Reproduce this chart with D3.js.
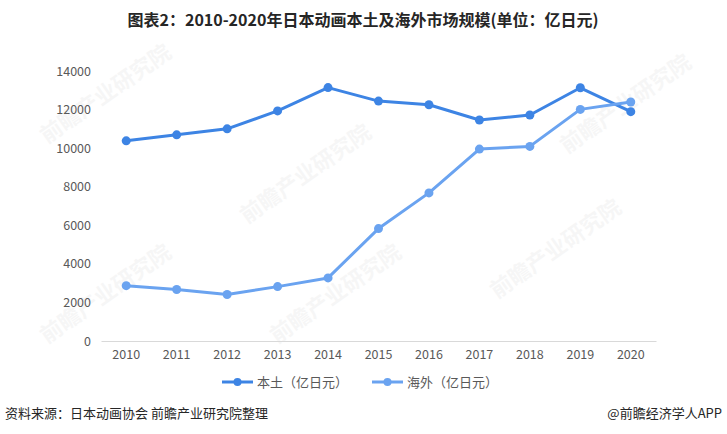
<!DOCTYPE html>
<html><head><meta charset="utf-8">
<script src="https://cdn.jsdelivr.net/npm/d3@7"></script>
<style>body{margin:0;background:#fff;}svg{display:block;}</style>
</head><body>
<svg id="c" width="727" height="434"></svg>
<script>
const years = ["2010","2011","2012","2013","2014","2015","2016","2017","2018","2019","2020"];
const domestic = [10380, 10690, 11000, 11930, 13140, 12440, 12250, 11460, 11720, 13130, 11890];
const overseas = [2870, 2670, 2410, 2820, 3270, 5830, 7680, 9950, 10090, 12010, 12390];
const yTicks = [0, 2000, 4000, 6000, 8000, 10000, 12000, 14000];
const seriesNames = ["本土（亿日元）", "海外（亿日元）"];
const titleText = "图表2：2010-2020年日本动画本土及海外市场规模(单位：亿日元)";
const sourceText = "资料来源：日本动画协会 前瞻产业研究院整理";
const brandText = "@前瞻经济学人APP";

const svg = d3.select("#c");
const font = "'Noto Sans CJK SC','Noto Sans',sans-serif";
const colors = ["#3d84e4", "#6aa3f0"];

// faint watermarks
const wm = [[110,100],[310,180],[560,255],[110,300],[630,110],[340,300]];
wm.forEach(([x,y])=>{
  svg.append("text").attr("transform",`translate(${x},${y}) rotate(-35)`)
    .attr("text-anchor","middle").attr("font-family",font).attr("font-size",22)
    .attr("font-weight","bold").attr("fill","#000").attr("opacity",0.03).text("前瞻产业研究院");
});

const x = d3.scaleBand().domain(years).range([101, 656]);
const y = d3.scaleLinear().domain([0, 14000]).range([341, 71]);

svg.append("text").attr("x", 363).attr("y", 26).attr("text-anchor","middle")
  .attr("font-family", font).attr("font-size", 16).attr("font-weight","bold")
  .attr("fill","#262626").text(titleText);

const ya = svg.append("g").attr("transform","translate(91,0)")
  .call(d3.axisLeft(y).tickValues(yTicks).tickSize(0).tickPadding(0).tickFormat(d3.format("d")));
ya.select(".domain").remove();
ya.selectAll("text").attr("font-family",font).attr("font-size",12.5).attr("fill","#595959");

const xa = svg.append("g").attr("transform","translate(0,341)")
  .call(d3.axisBottom(x).tickSize(0).tickPadding(9));
xa.select(".domain").attr("stroke","#d9d9d9").attr("stroke-width",1);
xa.selectAll("text").attr("font-family",font).attr("font-size",12.5).attr("fill","#595959");

const cx = d => x(d) + x.bandwidth()/2;
[domestic, overseas].forEach((vals, i) => {
  const data = years.map((yr, j) => ({yr, v: vals[j]}));
  svg.append("path").datum(data)
    .attr("d", d3.line().x(d => cx(d.yr)).y(d => y(d.v)))
    .attr("fill","none").attr("stroke", colors[i]).attr("stroke-width", 3).attr("stroke-linejoin","round");
  svg.append("g").selectAll("circle").data(data).join("circle")
    .attr("cx", d => cx(d.yr)).attr("cy", d => y(d.v)).attr("r", 4.5).attr("fill", colors[i]);
});

const lx = [222, 372];
seriesNames.forEach((n, i) => {
  const g = svg.append("g").attr("transform", `translate(${lx[i]},382)`);
  g.append("line").attr("x1",0).attr("x2",31).attr("stroke",colors[i]).attr("stroke-width",3);
  g.append("circle").attr("cx",15.5).attr("r",4).attr("fill",colors[i]);
  g.append("text").attr("x",35).attr("y",4.5).attr("font-family",font).attr("font-size",13)
    .attr("fill","#595959").text(n);
});

svg.append("text").attr("x",5).attr("y",418).attr("font-family",font).attr("font-size",13)
  .attr("fill","#262626").text(sourceText);
svg.append("text").attr("x",722).attr("y",418).attr("text-anchor","end").attr("font-family",font).attr("font-size",13)
  .attr("fill","#262626").text(brandText);
</script>
</body></html>
